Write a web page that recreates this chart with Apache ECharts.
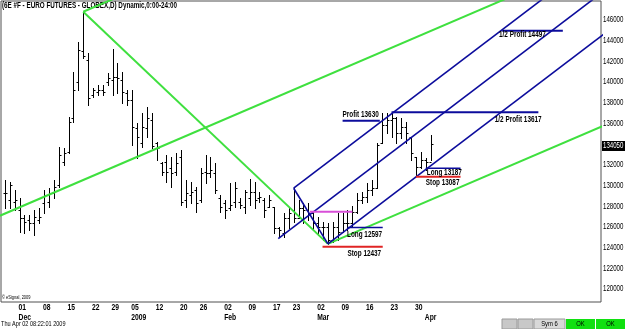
<!DOCTYPE html>
<html><head><meta charset="utf-8">
<script src="https://cdn.jsdelivr.net/npm/echarts@6/dist/echarts.min.js"></script>
<style>html,body{margin:0;padding:0;background:#fff;overflow:hidden}#c{width:625px;height:329px}</style>
</head><body><div id="c"></div>
<script>
// ---------- data ----------
const dates = ['2008-11-25','2008-11-26','2008-11-28',
 '2008-12-01','2008-12-02','2008-12-03','2008-12-04','2008-12-05',
 '2008-12-08','2008-12-09','2008-12-10','2008-12-11','2008-12-12',
 '2008-12-15','2008-12-16','2008-12-17','2008-12-18','2008-12-19',
 '2008-12-22','2008-12-23','2008-12-24','2008-12-26',
 '2008-12-29','2008-12-30','2008-12-31','2009-01-02',
 '2009-01-05','2009-01-06','2009-01-07','2009-01-08','2009-01-09',
 '2009-01-12','2009-01-13','2009-01-14','2009-01-15','2009-01-16',
 '2009-01-20','2009-01-21','2009-01-22','2009-01-23',
 '2009-01-26','2009-01-27','2009-01-28','2009-01-29','2009-01-30',
 '2009-02-02','2009-02-03','2009-02-04','2009-02-05','2009-02-06',
 '2009-02-09','2009-02-10','2009-02-11','2009-02-12','2009-02-13',
 '2009-02-17','2009-02-18','2009-02-19','2009-02-20',
 '2009-02-23','2009-02-24','2009-02-25','2009-02-26','2009-02-27',
 '2009-03-02','2009-03-03','2009-03-04','2009-03-05','2009-03-06',
 '2009-03-09','2009-03-10','2009-03-11','2009-03-12','2009-03-13',
 '2009-03-16','2009-03-17','2009-03-18','2009-03-19','2009-03-20',
 '2009-03-23','2009-03-24','2009-03-25','2009-03-26','2009-03-27',
 '2009-03-30','2009-03-31','2009-04-01','2009-04-02'];

const open = [129340,128640,128470,127670,126870,126700,126390,126700,128320,128470,
 129280,130090,132340,133300,136530,140070,143000,142160,138780,139100,
 139270,140070,140230,140550,140230,138950,138300,135560,134120,135560,
 136370,134120,132180,132340,131700,131370,132820,128640,129120,129600,
 128640,131370,131220,131220,128800,128320,127840,128470,128470,127990,
 128800,129440,128800,128640,127990,127990,125900,125420,126870,127670,
 126870,127840,127670,127350,126390,126060,126060,124770,126060,125570,
 126390,126390,127510,128640,128960,129600,129770,134120,135880,136370,
 136530,135080,135720,134750,132820,131810,132500,132340];
const high = [130570,130400,129600,128800,127190,127190,127670,127840,129600,129770,
 130570,133790,133630,136690,141030,143930,146830,142810,139430,139750,
 139750,140880,143200,141850,141030,139270,139270,136050,137010,137590,
 137010,134270,132340,132990,132820,133150,133470,130570,130400,129920,
 131700,132990,132820,132180,129120,128640,130250,130400,128800,129600,
 130640,130400,129440,128800,129120,127990,126060,127350,127990,129770,
 128640,128320,128320,127350,127020,126540,126390,126540,127350,127350,
 127670,128060,129280,129440,130250,130570,134120,137010,137010,137170,
 136690,136530,136200,134750,132820,133300,132670,134920];
const low = [127840,127840,127670,125570,125420,125740,125260,126390,127350,127990,
 128800,129920,132020,133150,136200,139270,142330,137820,138620,138780,
 138780,139750,138780,138950,137980,137820,133950,132670,133790,134750,
 133630,132500,131050,130400,129920,131050,128150,127990,128320,127510,
 128470,130250,130890,129280,127510,126870,127670,127990,127840,127350,
 128150,127840,128470,127020,127990,125420,125090,125090,125900,126540,
 126870,126390,126700,125740,125260,124770,124390,124610,124770,125570,
 125740,126060,127350,128320,128470,129120,129770,134120,135080,134750,
 134120,134600,134120,132500,131050,131700,131540,132500];
const close = [129310,130090,128640,126870,126540,126390,127020,127020,129120,129280,
 129920,132990,133150,136200,139270,143130,142600,138460,139270,139270,
 139100,140400,140550,140400,139100,138300,135720,134750,135720,136530,
 133850,133630,131370,131370,131220,132180,128470,129280,129440,128320,
 131220,131220,131540,129600,127990,127670,128150,129770,128150,129440,
 129440,128640,128960,127670,128640,125900,125740,126870,127350,126870,
 127840,127670,127350,126390,126060,126060,124770,126060,125570,126390,
 126390,127510,128640,128960,129600,129770,133950,135880,136370,136530,
 135080,135720,135080,133150,131810,132500,132340,134050];

const lastPrice = 134050;
const priceLabels = [120000,122000,124000,126000,128000,130000,132000,134050,136000,138000,140000,142000,144000,146000];
const weekStartDays = ['2008-12-01','2008-12-08','2008-12-15','2008-12-22','2008-12-29','2009-01-05','2009-01-12','2009-01-20','2009-01-26','2009-02-02','2009-02-09','2009-02-17','2009-02-23','2009-03-02','2009-03-09','2009-03-16','2009-03-23','2009-03-30'];
const monthStartDays = ['2008-12-01','2009-01-05','2009-02-02','2009-03-02','2009-04-01'];
const monthNames = ['Dec','2009','Feb','Mar','Apr'];

// drawn studies: [index, price] endpoints
const pitchforkMedian = [[55.85,124900],[130,151560]];
const pitchforkUpper  = [[59,129770],[130,155300]];
const pitchforkLower  = [[66,124390],[130,147400]];
const pitchforkBC     = [[59,129770],[66,124390]];
const greenDown       = [[16,146830],[66,124390]];
const greenUpLeft     = [[-1.02,127110],[110,149640]];
const greenUpTop      = [[16,146830],[30,149670]];
const greenUpLow      = [[66,124390],[130,137380]];
const entryLevel      = [[62.3,127500],[71,127500]];
const long1  = [[70,125970],[77.2,125970]];
const stop1  = [[64.9,124120],[77.2,124120]];
const long2  = [[86,131700],[93.1,131700]];
const stop2  = [[84,130870],[93.1,130870]];
const profit1 = [[69,136300],[76.6,136300]];
const halfProfit1 = [[79,137120],[109,137120]];
const halfProfit2 = [[101.6,145000],[114,145000]];
const notes = [
  [69.0,136850,'Profit 13630'],
  [100.1,136430,'1/2 Profit 13617'],
  [100.96,144650,'1/2 Profit 14497'],
  [69.9,125310,'Long 12597'],
  [70.0,123480,'Stop 12437'],
  [86.2,131270,'Long 13187'],
  [86.0,130300,'Stop 13087']
];

// ---------- chart ----------
const FONT = '"Liberation Sans",Arial,sans-serif';
const idxOf = d => dates.indexOf(d);

const GREEN = '#3fe03f', BLUE = '#0c0c9c', RED = '#e02424', MAG = '#d84fd8';
function seg(pts, color, w) {
  return {type:'line', data:pts, symbol:'none', silent:true, clip:true, animation:false,
    lineStyle:{color:color, width:w}, z:3};
}
function txt(x, y, s, size, weight, sx, align, fill) {
  return {type:'text', x:x, y:y, scaleX:sx, silent:true, z2:10,
    style:{text:s, fontSize:size, fontWeight:weight||'normal', fontFamily:FONT, fill:fill||'#000',
      align:align||'left', verticalAlign:'middle'}};
}

const chart = echarts.init(document.getElementById('c'), null, {renderer:'canvas'});
chart.setOption({
  animation:false,
  backgroundColor:'#fff',
  grid:{left:1, top:1, width:600, height:301, outerBoundsMode:'none', containLabel:false,
    show:true, borderColor:'#505050', borderWidth:1, backgroundColor:'#fff'},
  xAxis:{type:'value', min:-0.8, max:121.8, axisLine:{show:false}, axisTick:{show:false}, splitLine:{show:false}, axisLabel:{show:false}},
  yAxis:{type:'value', position:'right', min:118770, max:147870, axisLine:{show:false}, axisTick:{show:false}, splitLine:{show:false}, axisLabel:{show:false}},
  graphic:[
    txt(2, 6, '(6E #F - EURO FUTURES - GLOBEX,D) Dynamic,0:00-24:00', 8.5, 'bold', 0.74),
    txt(2, 298, '\u00a9 eSignal, 2009', 5, 'normal', 0.8),
    txt(1, 324, 'Thu Apr 02 08:22:01 2009', 7.5, 'normal', 0.74),
    {type:'rect', shape:{x:502,y:319,width:15,height:10}, style:{fill:'#c8c8c8', stroke:'#9a9a9a'}},
    {type:'rect', shape:{x:518,y:319,width:15,height:10}, style:{fill:'#c8c8c8', stroke:'#9a9a9a'}},
    {type:'rect', shape:{x:534,y:319,width:31,height:10}, style:{fill:'#d8d8d8', stroke:'#9a9a9a'}},
    txt(549.5, 324, 'Sym 6', 7.5, 'normal', 0.78, 'center'),
    {type:'rect', shape:{x:566,y:319,width:29,height:10}, style:{fill:'#10e010'}},
    txt(580.5, 324, 'OK', 7.5, 'normal', 0.78, 'center'),
    {type:'rect', shape:{x:596,y:319,width:29,height:10}, style:{fill:'#10e010'}},
    txt(610.5, 324, 'OK', 7.5, 'normal', 0.78, 'center')
  ],
  series:[
    {type:'custom', z:2, animation:false, silent:true,
      data: dates.map((d,i) => [i, open[i], high[i], low[i], close[i]]),
      encode:{x:0, y:[1,2,3,4]},
      renderItem:(params, api) => {
        const x = Math.round(api.coord([api.value(0), 0])[0]) + 0.5;
        const yo = Math.round(api.coord([0, api.value(1)])[1]) + 0.5;
        const yh = Math.round(api.coord([0, api.value(2)])[1]);
        const yl = Math.round(api.coord([0, api.value(3)])[1]) + 1;
        const yc = Math.round(api.coord([0, api.value(4)])[1]) + 0.5;
        const st = {stroke:'#000', lineWidth:1};
        return {type:'group', children:[
          {type:'line', shape:{x1:x, y1:yh, x2:x, y2:yl}, style:st},
          {type:'line', shape:{x1:x-2, y1:yo, x2:x, y2:yo}, style:st},
          {type:'line', shape:{x1:x, y1:yc, x2:x+2, y2:yc}, style:st}
        ]};
      }},
    seg(greenDown, GREEN, 2), seg(greenUpLeft, GREEN, 2), seg(greenUpTop, GREEN, 2), seg(greenUpLow, GREEN, 2),
    seg(pitchforkMedian, BLUE, 1.6), seg(pitchforkUpper, BLUE, 1.6), seg(pitchforkLower, BLUE, 1.6), seg(pitchforkBC, BLUE, 1.6),
    seg(entryLevel, MAG, 2), seg(long1, BLUE, 1.6), seg(stop1, RED, 2), seg(long2, BLUE, 1.6), seg(stop2, RED, 2),
    seg(profit1, BLUE, 2), seg(halfProfit1, BLUE, 2), seg(halfProfit2, BLUE, 2),
    // annotation texts
    {type:'custom', z:5, silent:true, animation:false,
      data:notes.map(n => [n[0], n[1]]), encode:{x:0, y:1},
      renderItem:(params, api) => {
        const p = api.coord([api.value(0), api.value(1)]);
        return txt(p[0], p[1], notes[params.dataIndex][2], 8.5, 'bold', 0.75);
      }},
    // price axis labels
    {type:'custom', z:5, silent:true, animation:false,
      data:priceLabels.map(v => [0, v]), encode:{x:0, y:1},
      renderItem:(params, api) => {
        const v = api.value(1);
        const y = Math.round(api.coord([0, v])[1]);
        const x = params.coordSys.x + params.coordSys.width + 2;
        if (v === lastPrice) {
          return {type:'group', children:[
            {type:'rect', z2:1, shape:{x:x-1, y:y-3, width:23, height:10}, style:{fill:'#000'}},
            txt(x, y + 2, String(v), 8.5, 'normal', 0.72, 'left', '#fff')
          ]};
        }
        return txt(x, y, String(v), 8.5, 'normal', 0.72);
      }},
    // date labels (day of week start)
    {type:'custom', z:5, silent:true, animation:false,
      data:weekStartDays.map(d => [idxOf(d), 0]), encode:{x:0, y:1},
      renderItem:(params, api) => {
        const x = api.coord([api.value(0), 0])[0] - 1;
        const y = params.coordSys.y + params.coordSys.height + 6;
        return txt(x, y, weekStartDays[params.dataIndex].slice(8), 9, 'bold', 0.75);
      }},
    // month labels
    {type:'custom', z:5, silent:true, animation:false,
      data:monthStartDays.map(d => [idxOf(d), 0]), encode:{x:0, y:1},
      renderItem:(params, api) => {
        const x = api.coord([api.value(0), 0])[0] - 1;
        const y = params.coordSys.y + params.coordSys.height + 16;
        return txt(x, y, monthNames[params.dataIndex], 9, 'bold', 0.75);
      }}
  ]
});
</script></body></html>
